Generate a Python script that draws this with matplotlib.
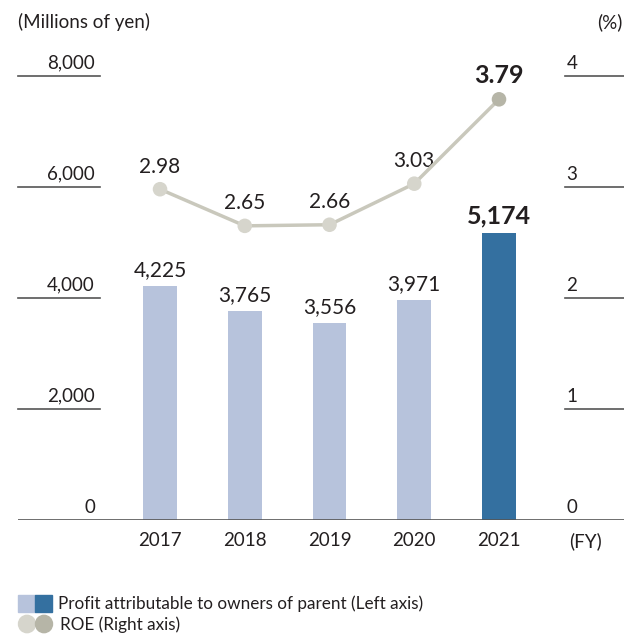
import matplotlib.pyplot as plt
import numpy as np

years = ["2017", "2018", "2019", "2020", "2021"]
profit = [4225, 3765, 3556, 3971, 5174]
roe = [2.98, 2.65, 2.66, 3.03, 3.79]
left_ticks = [0, 2000, 4000, 6000, 8000]
right_ticks = [0, 1, 2, 3, 4]

light_bar = '#b7c3dc'
dark_bar = '#3470a0'
line_col = '#c9c8bc'
dot_light = '#d6d5cc'
dot_dark = '#b6b5a7'
txt = '#231f20'

plt.rcParams['font.family'] = ['Lato', 'DejaVu Sans']

W, H = 624, 636
fig = plt.figure(figsize=(W / 100, H / 100), dpi=100)
ax = fig.add_axes([18 / W, (H - 520) / H, 606 / W, 444 / H])
ax.set_xlim(-1.676, 5.475)
ax.set_ylim(0, 8000)
ax.axis('off')
ax2 = ax.twinx()
ax2.set_ylim(0, 4)
ax2.axis('off')

x = np.arange(len(years))
colors = [light_bar] * (len(years) - 1) + [dark_bar]
ax.bar(x, profit, width=0.40, color=colors, zorder=2)

# baseline and short gridlines
ax.axhline(0, color='#555555', lw=1.2, zorder=3)
ytr = ax.get_yaxis_transform()
for t in left_ticks[1:]:
    ax.plot([0, 0.135], [t, t], color='#555555', lw=1.2, transform=ytr, clip_on=False)
    ax.plot([0.903, 1.0], [t, t], color='#555555', lw=1.2, transform=ytr, clip_on=False)
for t in left_ticks:
    ax.annotate(f"{t:,}", (0.127, t), xycoords=ytr, xytext=(0, 3), textcoords='offset points',
                ha='right', va='bottom', fontsize=13.5, color=txt)
y2tr = ax2.get_yaxis_transform()
for t in right_ticks:
    ax2.annotate(f"{t}", (0.905, t), xycoords=y2tr, xytext=(0, 3), textcoords='offset points',
                 ha='left', va='bottom', fontsize=13.5, color=txt)

# bar value labels
for i, v in enumerate(profit):
    last = i == len(profit) - 1
    ax.annotate(f"{v:,}", (x[i], v), xytext=(0, 4), textcoords='offset points',
                ha='center', va='bottom', color=txt,
                fontsize=18 if last else 15, fontweight='bold' if last else 'normal')

# ROE line
ax2.plot(x, roe, color=line_col, lw=2.5, zorder=4)
ax2.scatter(x[:-1], roe[:-1], s=110, color=dot_light, zorder=5, edgecolors='none')
ax2.scatter(x[-1:], roe[-1:], s=110, color=dot_dark, zorder=5, edgecolors='none')
for i, v in enumerate(roe):
    last = i == len(roe) - 1
    ax2.annotate(f"{v:.2f}", (x[i], v), xytext=(0, 9), textcoords='offset points',
                 ha='center', va='bottom', color=txt,
                 fontsize=18 if last else 15, fontweight='bold' if last else 'normal')

# year labels
for i, y in enumerate(years):
    fig.text((18 + (x[i] + 1.676) / 7.151 * 606) / W, 1 - 541 / H, y, ha='center', va='center',
             fontsize=13.5, color=txt)
fig.text(586 / W, 1 - 541 / H, "(FY)", ha='center', va='center', fontsize=13.5, color=txt)
fig.text(18 / W, 1 - 22 / H, "(Millions of yen)", ha='left', va='center', fontsize=13.5, color=txt)
fig.text(622 / W, 1 - 22 / H, "(%)", ha='right', va='center', fontsize=13.5, color=txt)

# legend
fig.patches.append(plt.Rectangle((18 / W, 1 - 612 / H), 17 / W, 17 / H, color=light_bar,
                                 transform=fig.transFigure))
fig.patches.append(plt.Rectangle((35 / W, 1 - 612 / H), 17 / W, 17 / H, color=dark_bar,
                                 transform=fig.transFigure))
fig.text(58 / W, 1 - 604 / H, "Profit attributable to owners of parent (Left axis)",
         ha='left', va='center', fontsize=12.3, color=txt)
fig.patches.append(plt.Circle((27 / W, 1 - 624 / H), 8.5 / W, color=dot_light,
                              transform=fig.transFigure))
fig.patches.append(plt.Circle((44 / W, 1 - 624 / H), 8.5 / W, color=dot_dark,
                              transform=fig.transFigure))
fig.text(60 / W, 1 - 625 / H, "ROE (Right axis)", ha='left', va='center', fontsize=12.3, color=txt)

fig.savefig('out.png', dpi=100)
